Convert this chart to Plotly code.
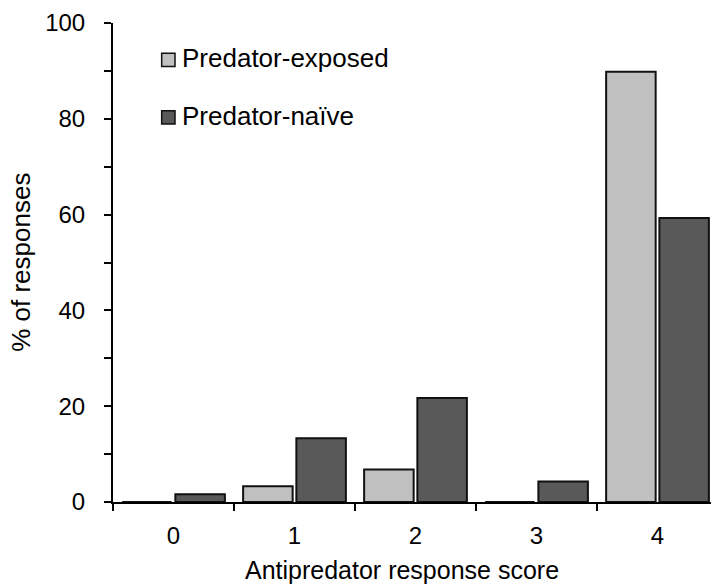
import plotly.graph_objects as go

# ---- data ----
scores = [0, 1, 2, 3, 4]
score_labels = ["0", "1", "2", "3", "4"]
exposed = [0.0, 3.3, 6.8, 0.0, 89.8]
naive = [1.6, 13.3, 21.7, 4.3, 59.3]
series_names = ["Predator-exposed", "Predator-naïve"]
colors = ["#C0C0C0", "#595959"]
y_ticks = [0, 20, 40, 60, 80, 100]

FONT = "Liberation Sans, Arial, sans-serif"
FS = 24
FS_T = 26

fig = go.Figure()
for name, vals, col in zip(series_names, [exposed, naive], colors):
    fig.add_trace(go.Bar(
        x=scores, y=vals, name=name, showlegend=False,
        marker=dict(color=col, line=dict(color="#111111", width=2)),
    ))

# manual legend (swatch + text)
leg_sq_y = [0.923, 0.803]
leg_tx_y = [0.926, 0.806]
for name, col, ys, yt in zip(series_names, colors, leg_sq_y, leg_tx_y):
    fig.add_shape(type="rect", xref="paper", yref="paper",
                  x0=0.0814, x1=0.1037, y0=ys - 0.014, y1=ys + 0.014,
                  fillcolor=col, line=dict(color="#111111", width=1.5))
    fig.add_annotation(xref="paper", yref="paper", x=0.112, y=yt,
                       xanchor="left", yanchor="middle", text=name,
                       showarrow=False, font=dict(family=FONT, size=FS_T, color="black"))

# axis titles
fig.add_annotation(xref="paper", yref="paper", x=0.483, y=-0.143,
                   xanchor="center", yanchor="middle", text="Antipredator response score",
                   showarrow=False, font=dict(family=FONT, size=25, color="black"))
fig.add_annotation(xref="paper", yref="paper", x=-0.155, y=0.5, textangle=-90,
                   xanchor="center", yanchor="middle", text="% of responses",
                   showarrow=False, font=dict(family=FONT, size=FS_T, color="black"))

fig.update_layout(
    width=711, height=587, autosize=False,
    margin=dict(l=113, r=0, t=23, b=85),
    paper_bgcolor="white", plot_bgcolor="white",
    barmode="group", bargap=0.12, bargroupgap=0.07,
    font=dict(family=FONT, size=FS, color="black"),
    xaxis=dict(
        range=[-0.5, 4.442], tickmode="array", tickvals=scores, ticktext=score_labels,
        ticks="outside", ticklen=0, ticklabelstandoff=11,
        minor=dict(tickmode="array", tickvals=[-0.5, 0.5, 1.5, 2.5, 3.5, 4.5],
                   ticks="outside", ticklen=7, tickwidth=2, tickcolor="black"),
        showline=True, linewidth=2, linecolor="black",
        showgrid=False, zeroline=False,
        tickfont=dict(family=FONT, size=FS, color="black"),
    ),
    yaxis=dict(
        range=[0, 100], tickmode="array", tickvals=y_ticks,
        ticks="outside", ticklen=7, tickwidth=2, tickcolor="black",
        ticklabelstandoff=14,
        minor=dict(dtick=10, tick0=0, ticks="outside", ticklen=7, tickwidth=2, tickcolor="black"),
        showline=True, linewidth=2, linecolor="black",
        showgrid=False, zeroline=False,
        tickfont=dict(family=FONT, size=FS, color="black"),
    ),
)

fig.write_html("out.html")
